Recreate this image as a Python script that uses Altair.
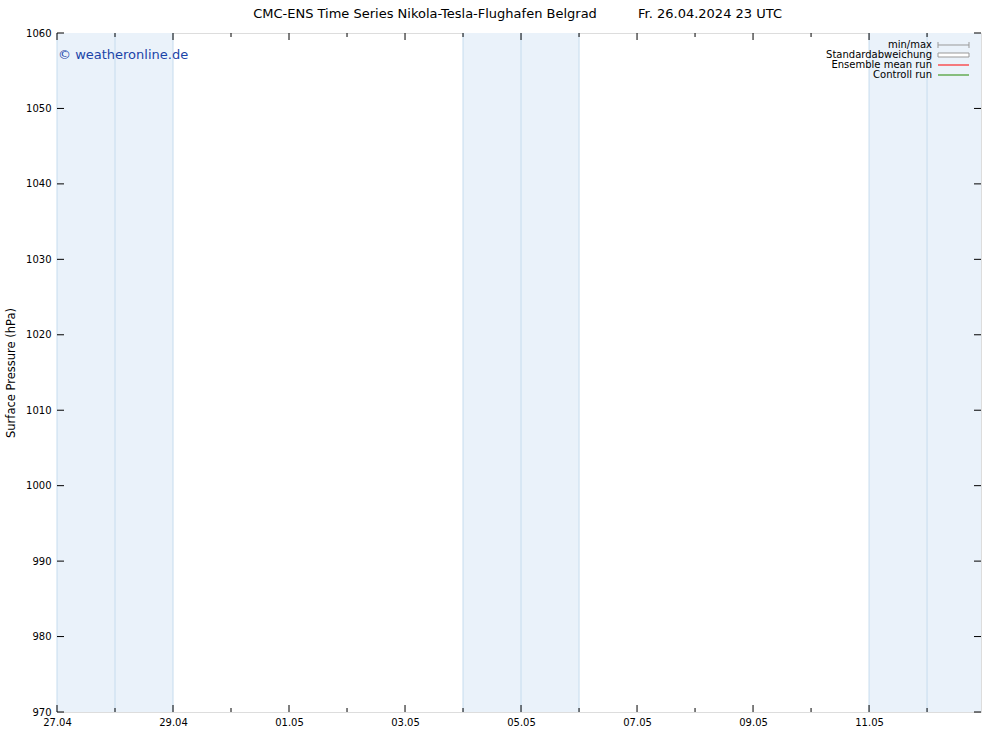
import altair as alt
import pandas as pd

# ---- data ----
major_days = [0, 2, 4, 6, 8, 10, 12, 14]
major_labels = ["27.04", "29.04", "01.05", "03.05", "05.05", "07.05", "09.05", "11.05"]
minor_days = [1, 3, 5, 7, 9, 11, 13, 15]
x_end = 15.93
y_ticks = [970, 980, 990, 1000, 1010, 1020, 1030, 1040, 1050, 1060]
band_start = [0, 7, 14]
band_end = [2, 9, x_end]
band_mid = [1, 8, 15]
legend_names = ["min/max", "Standardabweichung", "Ensemble mean run", "Controll run"]
title_left = "CMC-ENS Time Series Nikola-Tesla-Flughafen Belgrad"
title_right = "Fr. 26.04.2024 23 UTC"
watermark = "© weatheronline.de"

W, H = 924, 679
FONT = "DejaVu Sans"

xs = alt.Scale(domain=[0, x_end], nice=False, zero=False)
ys = alt.Scale(domain=[970, 1060], nice=False, zero=False)

label_arr = "[" + ",".join("'%s'" % l for l in major_labels) + "]"

bands = pd.DataFrame({"s": band_start, "e": band_end})
edges = pd.DataFrame({"d": band_start + band_end[:2] + band_mid})
majors = pd.DataFrame({"d": major_days})
minors = pd.DataFrame({"d": minor_days})
yt = pd.DataFrame({"v": y_ticks})
one = pd.DataFrame({"a": [0]})

band_layer = alt.Chart(bands).mark_rect(color="#eaf2fa").encode(
    x=alt.X("s:Q", scale=xs,
            axis=alt.Axis(values=major_days, labelExpr=label_arr + "[round(datum.value/2)]",
                          ticks=False, domain=False, grid=False, labelPadding=5,
                          labelFont=FONT, labelFontSize=10, labelColor="#000",
                          title=None, labelFlush=False)),
    x2="e:Q",
    y=alt.Y("v0:Q", scale=ys, axis=alt.Axis(values=y_ticks, format="d", ticks=False, domain=False,
                                         grid=False, labelPadding=6, labelFont=FONT, labelFontSize=10,
                                         labelColor="#000", title="Surface Pressure (hPa)",
                                         titleFont=FONT, titleFontSize=11.5, titleFontWeight="normal",
                                         titlePadding=9, titleColor="#000")),
    y2="v1:Q",
).transform_calculate(v0="970", v1="1060")

edge_layer = alt.Chart(edges).mark_rule(color="#c6dcee", strokeWidth=1).encode(
    x=alt.X("d:Q", scale=xs))

def tick_layer(df, y0, y1):
    return alt.Chart(df).mark_rule(color="#000", strokeWidth=1).encode(
        x=alt.X("d:Q", scale=xs), y=alt.value(y0), y2=alt.value(y1))

tk = [
    tick_layer(majors, 0, 7), tick_layer(majors, H, H - 7),
    tick_layer(minors, 0, 4), tick_layer(minors, H, H - 4),
]
ytk = [
    alt.Chart(yt).mark_rule(color="#000").encode(y=alt.Y("v:Q", scale=ys), x=alt.value(0), x2=alt.value(7)),
    alt.Chart(yt).mark_rule(color="#000").encode(y=alt.Y("v:Q", scale=ys), x=alt.value(W), x2=alt.value(W - 7)),
]

def txt(text, x, y, align="left", size=10, color="#000"):
    return alt.Chart(one).mark_text(text=text, align=align, baseline="middle", font=FONT,
                                    fontSize=size, color=color).encode(x=alt.value(x), y=alt.value(y))

texts = [
    txt(title_left, 425 - 57, 14 - 33, align="center", size=13),
    txt(title_right, 710 - 57, 14 - 33, align="center", size=13),
    txt(watermark, 1, 22, size=13, color="#1a44a8"),
]
leg_y = [12, 22, 32, 42]
for name, yy in zip(legend_names, leg_y):
    texts.append(txt(name, 875, yy, align="right", size=10))

lx0, lx1 = 881, 912
legend_marks = [
    alt.Chart(one).mark_rule(color="#999").encode(x=alt.value(lx0), x2=alt.value(lx1), y=alt.value(12)),
    alt.Chart(one).mark_rule(color="#999").encode(x=alt.value(lx0), y=alt.value(9), y2=alt.value(15)),
    alt.Chart(one).mark_rule(color="#999").encode(x=alt.value(lx1), y=alt.value(9), y2=alt.value(15)),
    alt.Chart(one).mark_rect(fill="#fff", stroke="#999", strokeWidth=1).encode(
        x=alt.value(lx0), x2=alt.value(lx1), y=alt.value(20), y2=alt.value(24)),
    alt.Chart(one).mark_rule(color="#ff0000").encode(x=alt.value(lx0), x2=alt.value(lx1), y=alt.value(32)),
    alt.Chart(one).mark_rule(color="#228800").encode(x=alt.value(lx0), x2=alt.value(lx1), y=alt.value(42)),
]

chart = alt.layer(band_layer, edge_layer, *tk, *ytk, *texts, *legend_marks).properties(
    width=W, height=H,
    autosize=alt.AutoSizeParams(type="none"),
    padding={"left": 57, "top": 33, "right": 19, "bottom": 21},
).configure_view(stroke="#000", strokeWidth=1).configure(background="#ffffff")

chart.save("out.html", embed_options={"renderer": "svg", "actions": False})
